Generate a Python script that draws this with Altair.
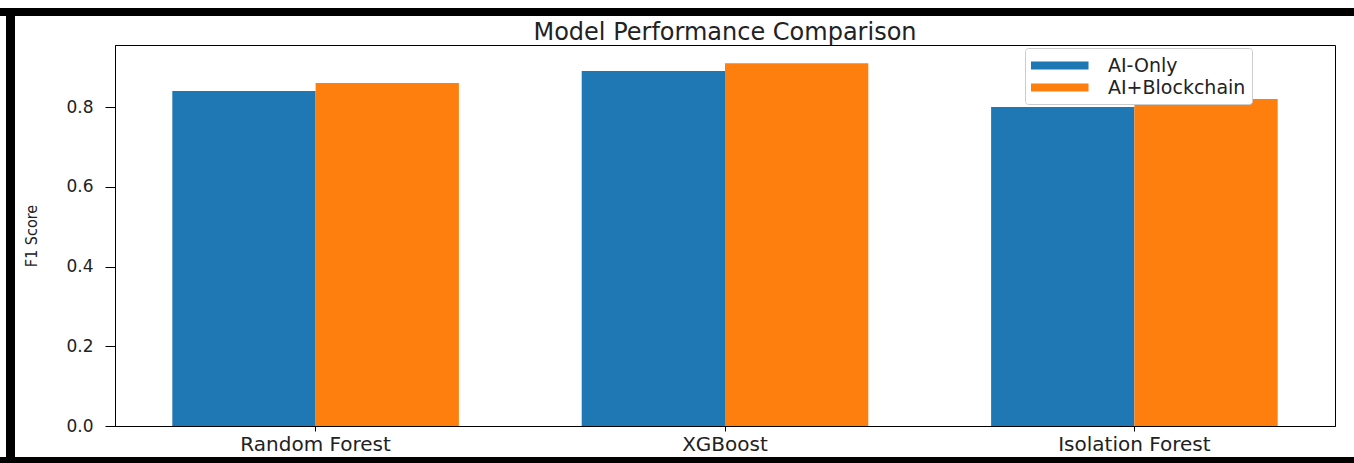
import altair as alt
import pandas as pd

models = ["Random Forest", "XGBoost", "Isolation Forest"]
ai_only = [0.84, 0.89, 0.80]
ai_blockchain = [0.86, 0.91, 0.82]
series = ["AI-Only", "AI+Blockchain"]
colors = ["#1f77b4", "#ff7f0e"]
y_ticks = [0.0, 0.2, 0.4, 0.6, 0.8]

rows = []
for m, a, b in zip(models, ai_only, ai_blockchain):
    rows.append({"Model": m, "Approach": series[0], "F1": a})
    rows.append({"Model": m, "Approach": series[1], "F1": b})
df = pd.DataFrame(rows)

W, H = 1220, 381
LEFT, TOP = 115, 45
FONT = "DejaVu Sans"

bars = alt.Chart(df).mark_bar().encode(
    x=alt.X(
        "Model:N", sort=models, title=None,
        scale=alt.Scale(paddingInner=0.3, paddingOuter=0.14),
        axis=alt.Axis(labelAngle=0, labelFontSize=20, tickSize=5, labelPadding=3, grid=False,
                      domainColor="black", tickColor="black", labelColor="#222", labelFont=FONT),
    ),
    xOffset=alt.XOffset("Approach:N", sort=series, scale=alt.Scale(paddingInner=0, paddingOuter=0)),
    y=alt.Y(
        "F1:Q", title="F1 Score",
        scale=alt.Scale(domain=[0, 0.9555], nice=False, zero=True),
        axis=alt.Axis(values=y_ticks, format=".1f", labelFontSize=17, tickSize=10, labelPadding=12,
                      grid=False,
                      domainColor="black", tickColor="black", labelColor="#222", labelFont=FONT,
                      titleFont="DejaVu Sans Condensed, Liberation Sans Narrow, DejaVu Sans",
                      titleFontSize=16, titleFontWeight="normal", titleColor="#222", titlePadding=26),
    ),
    color=alt.Color(
        "Approach:N", sort=series,
        scale=alt.Scale(domain=series, range=colors),
        legend=alt.Legend(
            title=None, orient="none", legendX=910, legendY=3,
            symbolType="M-1,-0.35L4,-0.35L4,0.35L-1,0.35Z", symbolSize=529,
            symbolStrokeWidth=0, symbolOpacity=1,
            labelFontSize=19, labelFont=FONT, labelColor="#222", labelOffset=54,
            padding=6, rowPadding=0, fillColor="white", strokeColor="#cccccc",
            cornerRadius=3,
        ),
    ),
)

frame_df = pd.DataFrame({"k": [0]})
top_rule = alt.Chart(frame_df).mark_rule(color="black", strokeWidth=8).encode(
    x=alt.value(-LEFT), x2=alt.value(1354 - LEFT), y=alt.value(12 - TOP)
)
left_rule = alt.Chart(frame_df).mark_rule(color="black", strokeWidth=9).encode(
    x=alt.value(10.5 - LEFT), y=alt.value(8 - TOP), y2=alt.value(463 - TOP)
)
bottom_rule = alt.Chart(frame_df).mark_rule(color="black", strokeWidth=6).encode(
    x=alt.value(-LEFT), x2=alt.value(1354 - LEFT), y=alt.value(460 - TOP)
)

chart = alt.layer(bars, top_rule, left_rule, bottom_rule).properties(
    width=W, height=H,
    title=alt.TitleParams("Model Performance Comparison", fontSize=24, fontWeight="normal",
                          anchor="middle", offset=3, dy=44, color="#222", font=FONT),
    autosize=alt.AutoSizeParams(type="none"),
    padding={"left": LEFT, "top": TOP, "right": 1354 - LEFT - W, "bottom": 463 - TOP - H},
).configure(background="white").configure_view(stroke="black", strokeWidth=1).configure_axis(grid=False)

chart.save("out.html", embed_options={"renderer": "svg", "actions": False})
